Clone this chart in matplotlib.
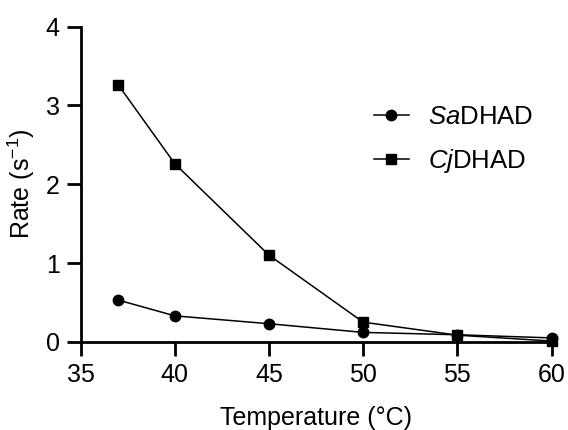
import matplotlib
matplotlib.use('Agg')
import matplotlib.pyplot as plt

plt.rcParams['font.family'] = ['Liberation Sans', 'DejaVu Sans']
plt.rcParams['mathtext.fontset'] = 'custom'
plt.rcParams['mathtext.rm'] = 'Liberation Sans'
plt.rcParams['mathtext.it'] = 'Liberation Sans:italic'

temps = [37, 40, 45, 50, 55, 60]
sa_rate = [0.53, 0.33, 0.23, 0.12, 0.09, 0.05]
cj_rate = [3.26, 2.26, 1.10, 0.25, 0.085, 0.01]
labels = ['$\\it{Sa}$DHAD', '$\\it{Cj}$DHAD']

fig = plt.figure(figsize=(5.68, 4.30), dpi=100)
ax = fig.add_axes((0.142, 0.205, 0.829, 0.733))

ax.plot(temps, sa_rate, color='black', lw=1.1, marker='o', ms=7.5, label=labels[0], clip_on=False, zorder=3)
ax.plot(temps, cj_rate, color='black', lw=1.1, marker='s', ms=7.5, label=labels[1], clip_on=False, zorder=3)

ax.set_xlim(35, 60)
ax.set_ylim(0, 4)
ax.set_xticks([35, 40, 45, 50, 55, 60])
ax.set_yticks([0, 1, 2, 3, 4])

for side in ['top', 'right']:
    ax.spines[side].set_visible(False)
for side in ['left', 'bottom']:
    ax.spines[side].set_linewidth(2.0)
ax.tick_params(width=2.0, length=10, labelsize=18, pad=5)

ax.set_xlabel('Temperature (°C)', fontsize=18, labelpad=14)
ax.set_ylabel('Rate (s$^{-1}$)', fontsize=18, labelpad=6)

ax.legend(loc='upper left', bbox_to_anchor=(0.658, 0.755), bbox_transform=fig.transFigure,
          frameon=False, fontsize=18.5, handlelength=1.36, handletextpad=0.74,
          labelspacing=0.7, borderaxespad=0, borderpad=0)

plt.savefig('out.png', dpi=100)
